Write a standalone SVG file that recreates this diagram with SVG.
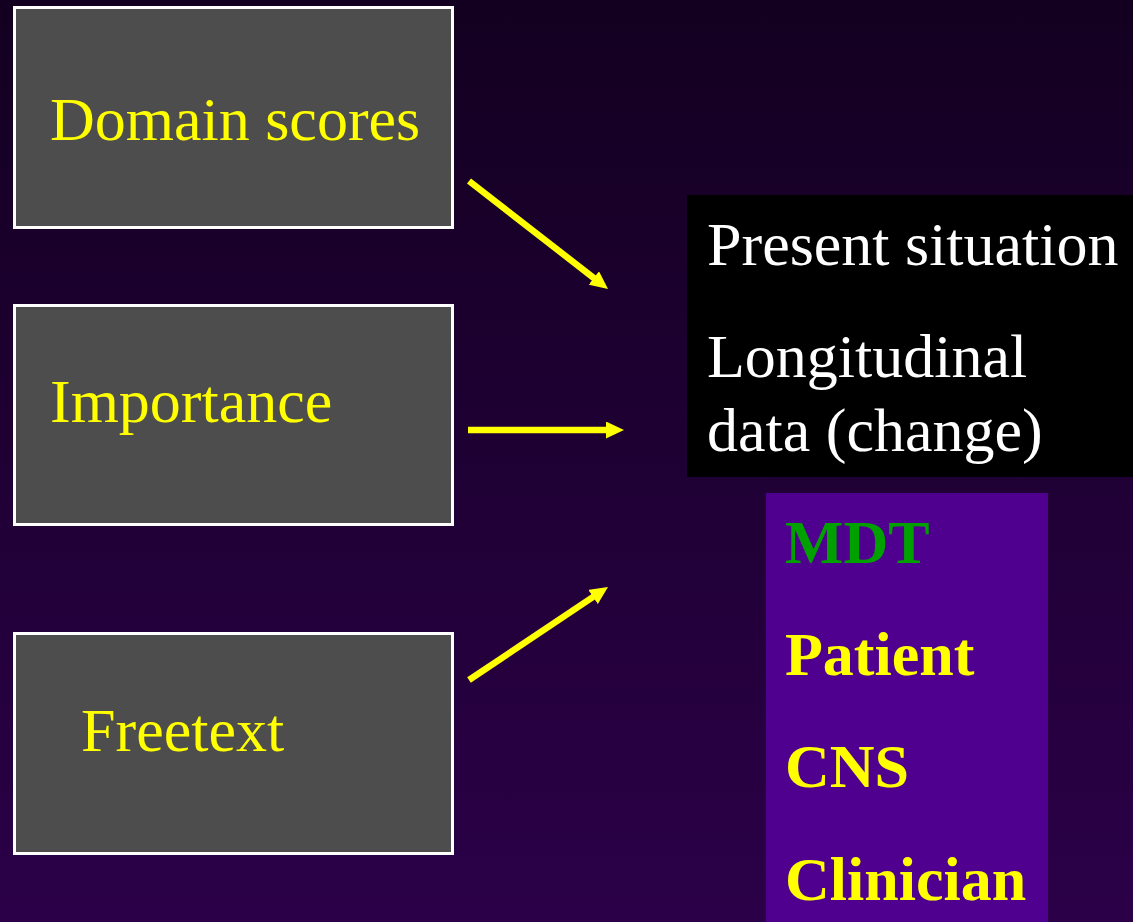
<svg xmlns="http://www.w3.org/2000/svg" width="1133" height="922" viewBox="0 0 1133 922">
<defs>
<linearGradient id="bg" x1="0" y1="0" x2="0" y2="1">
<stop offset="0" stop-color="#130020"/>
<stop offset="1" stop-color="#2b0048"/>
</linearGradient>
<marker id="ah" viewBox="0 0 18 17" refX="1" refY="8.5" markerWidth="18" markerHeight="17" markerUnits="userSpaceOnUse" orient="auto">
<path d="M0,0 L18,8.5 L0,17 Z" fill="#ffff00"/>
</marker>
<style>
.box{fill:#4d4d4d;stroke:#ffffff;stroke-width:3}
.lbl{font-family:"Liberation Serif","Times New Roman",serif;font-size:62px;fill:#ffff00}
.wt{font-family:"Liberation Serif","Times New Roman",serif;font-size:62px;fill:#ffffff}
.bd{font-family:"Liberation Serif","Times New Roman",serif;font-size:62px;font-weight:bold;fill:#ffff00}
.arr{stroke:#ffff00;stroke-width:6.5;fill:none;marker-end:url(#ah)}
</style>
</defs>
<rect x="0" y="0" width="1133" height="922" fill="url(#bg)"/>
<g id="domain-scores">
<rect class="box" x="14.5" y="7.5" width="438" height="220"/>
<text class="lbl" x="50" y="140">Domain scores</text>
</g>
<g id="importance">
<rect class="box" x="14.5" y="305.5" width="438" height="219"/>
<text class="lbl" x="50" y="422">Importance</text>
</g>
<g id="freetext">
<rect class="box" x="14.5" y="633.5" width="438" height="220"/>
<text class="lbl" x="81" y="751">Freetext</text>
</g>
<g id="outcome">
<rect x="687" y="195" width="446" height="282" fill="#000000"/>
<text class="wt" x="707" y="265">Present situation</text>
<text class="wt" x="707" y="377">Longitudinal</text>
<text class="wt" x="707" y="451">data (change)</text>
</g>
<g id="users">
<rect x="766" y="493" width="282" height="429" fill="#4f008f"/>
<text class="bd" x="785" y="563" style="fill:#00a000">MDT</text>
<text class="bd" x="785" y="675">Patient</text>
<text class="bd" x="785" y="787">CNS</text>
<text class="bd" x="785" y="900">Clinician</text>
</g>
<g id="connectors">
<line class="arr" x1="469" y1="181" x2="594.6" y2="278.6"/>
<line class="arr" x1="468" y1="430" x2="607" y2="430"/>
<line class="arr" x1="469" y1="680" x2="593.9" y2="596.4"/>
</g>
</svg>
